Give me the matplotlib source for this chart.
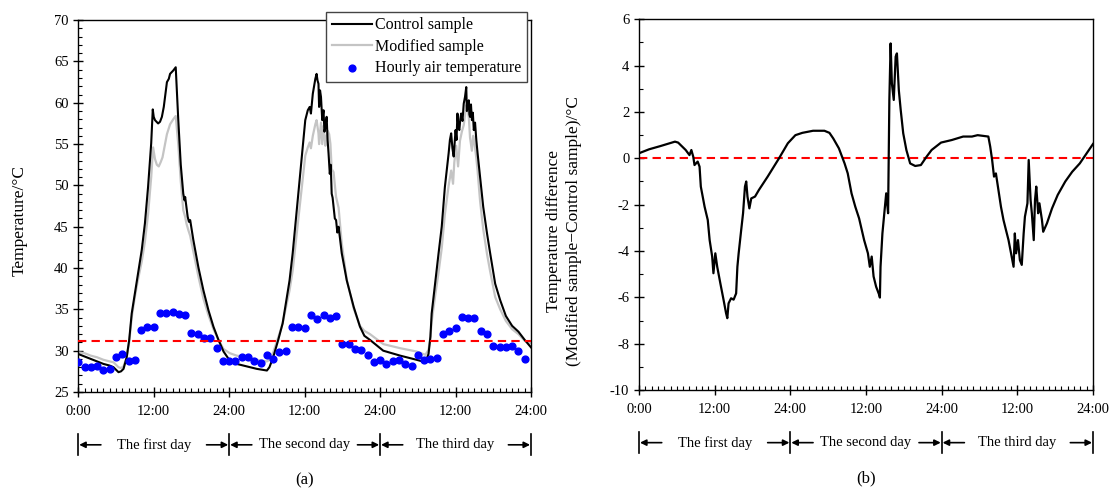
import matplotlib
matplotlib.use("Agg")
import matplotlib.pyplot as plt
from matplotlib.ticker import MultipleLocator, FixedFormatter, FixedLocator
from matplotlib.transforms import blended_transform_factory

plt.rcParams["font.family"] = ["Liberation Serif", "DejaVu Serif"]
plt.rcParams["axes.unicode_minus"] = False

# ---- data (hours since start of day 1) ---------------------------------- #
ctrl_t = [0.0, 1.0, 2.0, 3.0, 4.0, 5.0, 5.6, 6.0, 6.4, 6.8, 7.2, 7.7, 8.1, 8.5,
          9.0, 9.5, 10.1, 10.6, 11.1, 11.6, 11.85, 12.0, 12.2, 12.7, 13.0, 13.3,
          13.6, 13.8, 14.1, 14.4, 14.6, 15.1, 15.5, 15.9, 16.3, 16.7, 16.9, 17.0,
          17.2, 17.4, 17.6, 17.8, 18.3, 19.1, 19.9, 20.7, 21.5, 22.3, 23.1, 24.1,
          25.2, 26.8, 28.4, 30.0, 30.4, 31.0, 31.8, 32.5, 33.0, 33.6, 34.1, 34.6,
          35.2, 35.7, 36.1, 36.5, 36.8, 37.0, 37.3, 37.5, 37.7, 37.9, 38.05, 38.2,
          38.3, 38.45, 38.6, 38.8, 39.0, 39.15, 39.3, 39.5, 39.65, 39.8, 40.0,
          40.15, 40.3, 40.45, 40.6, 40.8, 41.0, 41.2, 41.4, 41.9, 42.7, 43.8, 44.8,
          45.5, 46.4, 48.5, 51.2, 53.8, 55.2, 55.7, 56.0, 56.2, 56.8, 57.3, 57.8,
          58.3, 58.9, 59.1, 59.3, 59.5, 59.7, 60.0, 60.15, 60.3, 60.45, 60.6,
          60.75, 60.9, 61.1, 61.3, 61.5, 61.7, 61.8, 61.9, 62.1, 62.2, 62.3, 62.45,
          62.6, 62.75, 62.9, 63.1, 63.3, 63.5, 63.9, 64.4, 65.0, 65.5, 66.3, 67.1,
          68.0, 69.0, 70.0, 71.0, 72.0]
ctrl_v = [29.6, 29.3, 29.0, 28.7, 28.4, 28.2, 28.0, 27.7, 27.4, 27.5, 27.8, 29.2,
          31.3, 34.5, 36.9, 39.3, 42.2, 45.4, 49.8, 55.1, 59.2, 58.3, 57.9, 57.5,
          57.7, 58.3, 59.5, 60.7, 62.5, 62.9, 63.5, 63.9, 64.3, 58.0, 52.5, 49.0,
          48.2, 48.6, 47.4, 46.2, 45.6, 45.8, 43.4, 40.1, 37.3, 34.9, 32.9, 31.3,
          29.9, 28.8, 28.4, 28.1, 27.8, 27.6, 28.0, 29.2, 31.3, 33.3, 35.7, 38.5,
          41.8, 45.8, 50.6, 54.7, 57.9, 59.1, 59.5, 58.7, 61.1, 62.0, 62.9, 63.5,
          62.7, 62.3, 59.5, 61.5, 60.7, 57.9, 59.1, 56.5, 57.1, 58.3, 55.5, 53.9,
          51.4, 52.5, 49.0, 48.5, 47.4, 46.0, 45.8, 44.3, 45.0, 41.8, 38.5, 35.3,
          32.9, 31.8, 31.3, 30.0, 29.4, 28.9, 28.6, 29.6, 31.7, 34.5, 38.5, 41.8,
          45.0, 49.8, 53.9, 55.5, 56.3, 54.5, 53.5, 56.7, 55.5, 58.7, 57.0, 56.7,
          58.0, 58.7, 57.8, 59.9, 60.7, 61.9, 59.0, 59.5, 60.3, 58.6, 58.3, 59.8,
          57.9, 58.8, 56.7, 57.6, 55.5, 53.9, 51.0, 47.4, 44.2, 41.8, 38.1, 36.1,
          34.2, 33.0, 32.3, 31.3, 30.4]

mod_t = [0.0, 1.0, 2.0, 3.0, 4.0, 5.0, 5.6, 6.0, 6.4, 6.8, 7.2, 7.7, 8.1, 8.5,
         9.0, 9.5, 10.1, 10.6, 11.1, 11.6, 11.9, 12.2, 12.5, 12.8, 13.1, 13.4,
         13.8, 14.1, 14.6, 15.1, 15.5, 15.9, 16.3, 16.7, 17.0, 17.2, 17.5, 17.8,
         18.3, 19.1, 19.9, 20.7, 21.5, 22.3, 23.1, 24.1, 25.2, 26.8, 28.4, 30.0,
         30.4, 31.0, 31.8, 32.5, 33.0, 33.6, 34.1, 34.6, 35.2, 35.7, 36.1, 36.5,
         36.8, 37.0, 37.3, 37.7, 37.9, 38.2, 38.3, 38.6, 38.8, 39.0, 39.3, 39.5,
         39.7, 39.9, 40.1, 40.3, 40.6, 41.0, 41.4, 41.9, 42.7, 43.8, 44.8, 45.5,
         46.4, 48.5, 51.2, 53.8, 55.2, 55.7, 56.0, 56.2, 56.8, 57.3, 57.8, 58.3,
         58.9, 59.3, 59.6, 59.8, 60.1, 60.4, 60.7, 61.0, 61.3, 61.5, 61.7, 61.9,
         62.1, 62.3, 62.6, 62.8, 63.0, 63.3, 63.5, 63.9, 64.4, 65.0, 65.5, 66.3,
         67.1, 68.0, 69.0, 70.0, 71.0, 72.0]
mod_v = [29.8, 29.7, 29.4, 29.2, 28.9, 28.7, 28.6, 28.3, 28.0, 27.9, 28.1, 29.2,
         31.0, 34.0, 36.5, 38.6, 40.8, 43.2, 46.5, 51.0, 54.6, 53.2, 52.5, 52.3,
         52.8, 53.4, 55.0, 56.2, 57.4, 58.0, 58.4, 55.0, 50.5, 47.0, 46.2, 45.4,
         44.6, 43.9, 42.0, 39.0, 36.3, 34.3, 32.6, 31.3, 30.2, 29.7, 29.4, 29.2,
         28.9, 28.7, 28.9, 29.8, 31.6, 33.3, 35.1, 37.3, 39.7, 43.2, 47.3, 51.0,
         53.6, 54.6, 55.2, 54.5, 56.0, 57.4, 57.9, 56.3, 55.0, 57.6, 55.0, 57.2,
         54.8, 56.0, 56.6, 56.2, 55.0, 52.0, 51.6, 48.6, 47.3, 43.0, 38.6, 35.1,
         33.0, 32.4, 32.0, 30.8, 30.3, 29.9, 29.5, 30.1, 31.6, 33.5, 36.9, 39.5,
         42.4, 46.5, 50.0, 51.8, 50.2, 52.8, 54.8, 52.3, 55.4, 56.5, 57.3, 58.5,
         59.7, 59.4, 58.3, 55.8, 54.2, 56.0, 55.2, 53.3, 51.8, 48.1, 44.7, 41.7,
         39.6, 36.5, 35.0, 33.6, 32.6, 32.0, 31.2, 30.9]

air_t = list(range(72))
air_v = [28.6, 28.0, 28.0, 28.2, 27.7, 27.8, 29.2, 29.6, 28.8, 28.9, 32.55, 32.9,
         32.9, 34.6, 34.6, 34.65, 34.5, 34.3, 32.1, 32.0, 31.5, 31.5, 30.3, 28.75,
         28.75, 28.8, 29.25, 29.25, 28.8, 28.5, 29.5, 29.0, 29.9, 30.0, 32.9, 32.9,
         32.7, 34.3, 33.8, 34.3, 34.0, 34.2, 30.85, 30.8, 30.25, 30.1, 29.5, 28.6,
         28.9, 28.4, 28.75, 28.9, 28.4, 28.1, 29.5, 28.9, 29.0, 29.1, 32.0, 32.4,
         32.8, 34.1, 34.0, 33.9, 32.4, 32.0, 30.6, 30.45, 30.4, 30.55, 29.95, 29.0]
air_ref = 31.15

diff_t = [0.0, 1.6, 3.4, 5.7, 6.2, 7.4, 8.0, 8.3, 8.6, 8.8, 9.3, 9.6, 9.8, 10.0,
          10.4, 10.9, 11.2, 11.6, 11.8, 12.1, 12.4, 12.9, 13.4, 13.8, 14.0, 14.2,
          14.6, 15.0, 15.4, 15.6, 15.8, 16.2, 16.5, 16.8, 17.0, 17.2, 17.5, 17.8,
          18.4, 19.0, 20.4, 22.2, 23.6, 24.8, 25.9, 27.6, 29.4, 30.2, 30.8, 31.7,
          32.6, 33.1, 33.7, 34.3, 34.9, 35.7, 36.3, 36.6, 36.9, 37.2, 37.6, 38.1,
          38.2, 38.3, 38.6, 38.9, 39.2, 39.5, 39.7, 39.9, 40.1, 40.4, 40.7, 40.9,
          41.2, 41.5, 41.9, 42.4, 43.0, 43.8, 44.7, 45.6, 46.4, 47.9, 49.6, 51.4,
          52.8, 53.7, 55.4, 55.7, 56.0, 56.3, 56.6, 57.0, 57.4, 57.8, 58.2, 58.6,
          59.0, 59.4, 59.6, 59.8, 60.1, 60.4, 60.7, 61.0, 61.2, 61.6, 61.8, 62.1,
          62.3, 62.6, 62.8, 63.0, 63.3, 63.5, 63.9, 64.1, 64.7, 65.5, 66.4, 67.6,
          68.7, 69.9, 71.0, 72.0]
diff_v = [0.22, 0.39, 0.53, 0.72, 0.68, 0.36, 0.14, 0.36, 0.07, -0.29, -0.14,
          -0.36, -1.22, -1.51, -2.09, -2.66, -3.53, -4.24, -4.96, -4.1, -4.68,
          -5.4, -6.1, -6.68, -6.9, -6.26, -6.04, -6.1, -5.83, -4.68, -4.1, -3.1,
          -2.37, -1.22, -1.0, -1.65, -2.16, -1.73, -1.65, -1.37, -0.79, 0.0, 0.65,
          1.0, 1.1, 1.19, 1.19, 1.1, 0.86, 0.43, -0.22, -0.65, -1.51, -2.09, -2.59,
          -3.53, -4.1, -4.68, -4.24, -5.1, -5.54, -5.9, -6.01, -4.68, -3.24, -2.37,
          -1.51, -2.37, 2.52, 4.96, 3.24, 2.52, 4.39, 4.53, 2.95, 2.09, 1.08, 0.36,
          -0.22, -0.33, -0.29, 0.07, 0.36, 0.68, 0.79, 0.94, 0.94, 1.0, 0.94, 0.5,
          -0.07, -0.79, -0.65, -1.37, -2.09, -2.66, -3.1, -3.53, -4.1, -4.68,
          -3.24, -4.1, -3.53, -4.39, -4.6, -3.24, -2.52, -1.94, -0.07, -1.8, -2.37,
          -3.53, -1.8, -1.22, -2.37, -1.94, -2.66, -3.17, -2.8, -2.16, -1.58, -1.0,
          -0.58, -0.22, 0.22, 0.62]

x_ticks = [0, 12, 24, 36, 48, 60, 72]
x_labels = ["0:00", "12:00", "24:00", "12:00", "24:00", "12:00", "24:00"]
day_names = ["The first day", "The second day", "The third day"]


def style_axes(ax):
    for s in ax.spines.values():
        s.set_color("black")
        s.set_linewidth(1.0)
    ax.set_xlim(0, 72)
    ax.xaxis.set_major_locator(FixedLocator(x_ticks))
    ax.xaxis.set_major_formatter(FixedFormatter(x_labels))
    ax.xaxis.set_minor_locator(MultipleLocator(1))
    ax.tick_params(which="major", direction="inout", length=7, width=1.0,
                   labelsize=10.5, top=False, right=False)
    ax.tick_params(which="minor", direction="in", length=3, width=0.8,
                   top=False, right=False)
    ax.tick_params(axis="x", which="major", pad=6)


def day_row(ax):
    tr = blended_transform_factory(ax.transData, ax.transAxes)
    yc, y0, y1 = -0.142, -0.112, -0.17
    for b in [0, 24, 48, 72]:
        ax.plot([b, b], [y0, y1], transform=tr, color="black", lw=1.2,
                clip_on=False)
    for i, name in enumerate(day_names):
        s, e = 24 * i, 24 * (i + 1)
        arrow = dict(arrowstyle="-|>", color="black", lw=1.2, mutation_scale=9,
                     shrinkA=0, shrinkB=0)
        ax.annotate("", xy=(s + 0.15, yc), xytext=(s + 3.6, yc), xycoords=tr,
                    textcoords=tr, arrowprops=arrow, annotation_clip=False)
        ax.annotate("", xy=(e - 0.15, yc), xytext=(e - 3.6, yc), xycoords=tr,
                    textcoords=tr, arrowprops=arrow, annotation_clip=False)
        ax.text((s + e) / 2, yc, name, transform=tr, ha="center", va="center",
                fontsize=10.5)


fig = plt.figure(figsize=(11.1, 4.88), dpi=100)
ax1 = fig.add_axes([0.0705, 0.1967, 0.4079, 0.762])
ax2 = fig.add_axes([0.5757, 0.2008, 0.409, 0.7596])

# ---- (a) temperatures ---------------------------------------------------- #
ax1.plot(mod_t, mod_v, color="#c4c4c4", lw=1.6, zorder=2, label="Modified sample")
ax1.plot(ctrl_t, ctrl_v, color="black", lw=1.5, zorder=3, label="Control sample")
ax1.scatter(air_t, air_v, s=24, color="#0000ff", zorder=4,
            label="Hourly air temperature")
ax1.axhline(air_ref, color="#ff0000", lw=1.5, ls=(0, (4, 2.5)), zorder=5)
style_axes(ax1)
ax1.set_ylim(25, 70)
ax1.yaxis.set_major_locator(MultipleLocator(5))
ax1.yaxis.set_minor_locator(MultipleLocator(1))
h, l = ax1.get_legend_handles_labels()
order = [1, 0, 2]
leg = ax1.legend([h[i] for i in order], [l[i] for i in order], loc="upper right",
                 bbox_to_anchor=(0.4745, 0.976), bbox_transform=fig.transFigure,
                 borderaxespad=0, fancybox=False, framealpha=1, edgecolor="#444444",
                 fontsize=11.5, handlelength=2.5, labelspacing=0.35,
                 handletextpad=0.2, borderpad=0.35)
leg.get_frame().set_linewidth(1.0)
leg.set_zorder(10)
day_row(ax1)
fig.text(0.018, 1 - 221 / 488, "Temperature/°C", rotation=90, ha="center",
         va="center", fontsize=12.5)
fig.text(0.2745, 1 - 480 / 488, "(a)", ha="center", va="center", fontsize=12)

# ---- (b) difference ------------------------------------------------------ #
ax2.plot(diff_t, diff_v, color="black", lw=1.6, zorder=3)
ax2.axhline(0, color="#ff0000", lw=1.5, ls=(0, (4, 2.5)), zorder=2)
style_axes(ax2)
ax2.set_ylim(-10, 6)
ax2.yaxis.set_major_locator(MultipleLocator(2))
ax2.yaxis.set_minor_locator(MultipleLocator(1))
day_row(ax2)
fig.text(564 / 1110, 1 - 231 / 488,
         "Temperature difference\n(Modified sample\u2212Control sample)/°C",
         rotation=90, ha="center", va="center", multialignment="center",
         fontsize=12.5, linespacing=1.25)
fig.text(866 / 1110, 1 - 478 / 488, "(b)", ha="center", va="center", fontsize=12)

fig.savefig("out.png", dpi=100)
